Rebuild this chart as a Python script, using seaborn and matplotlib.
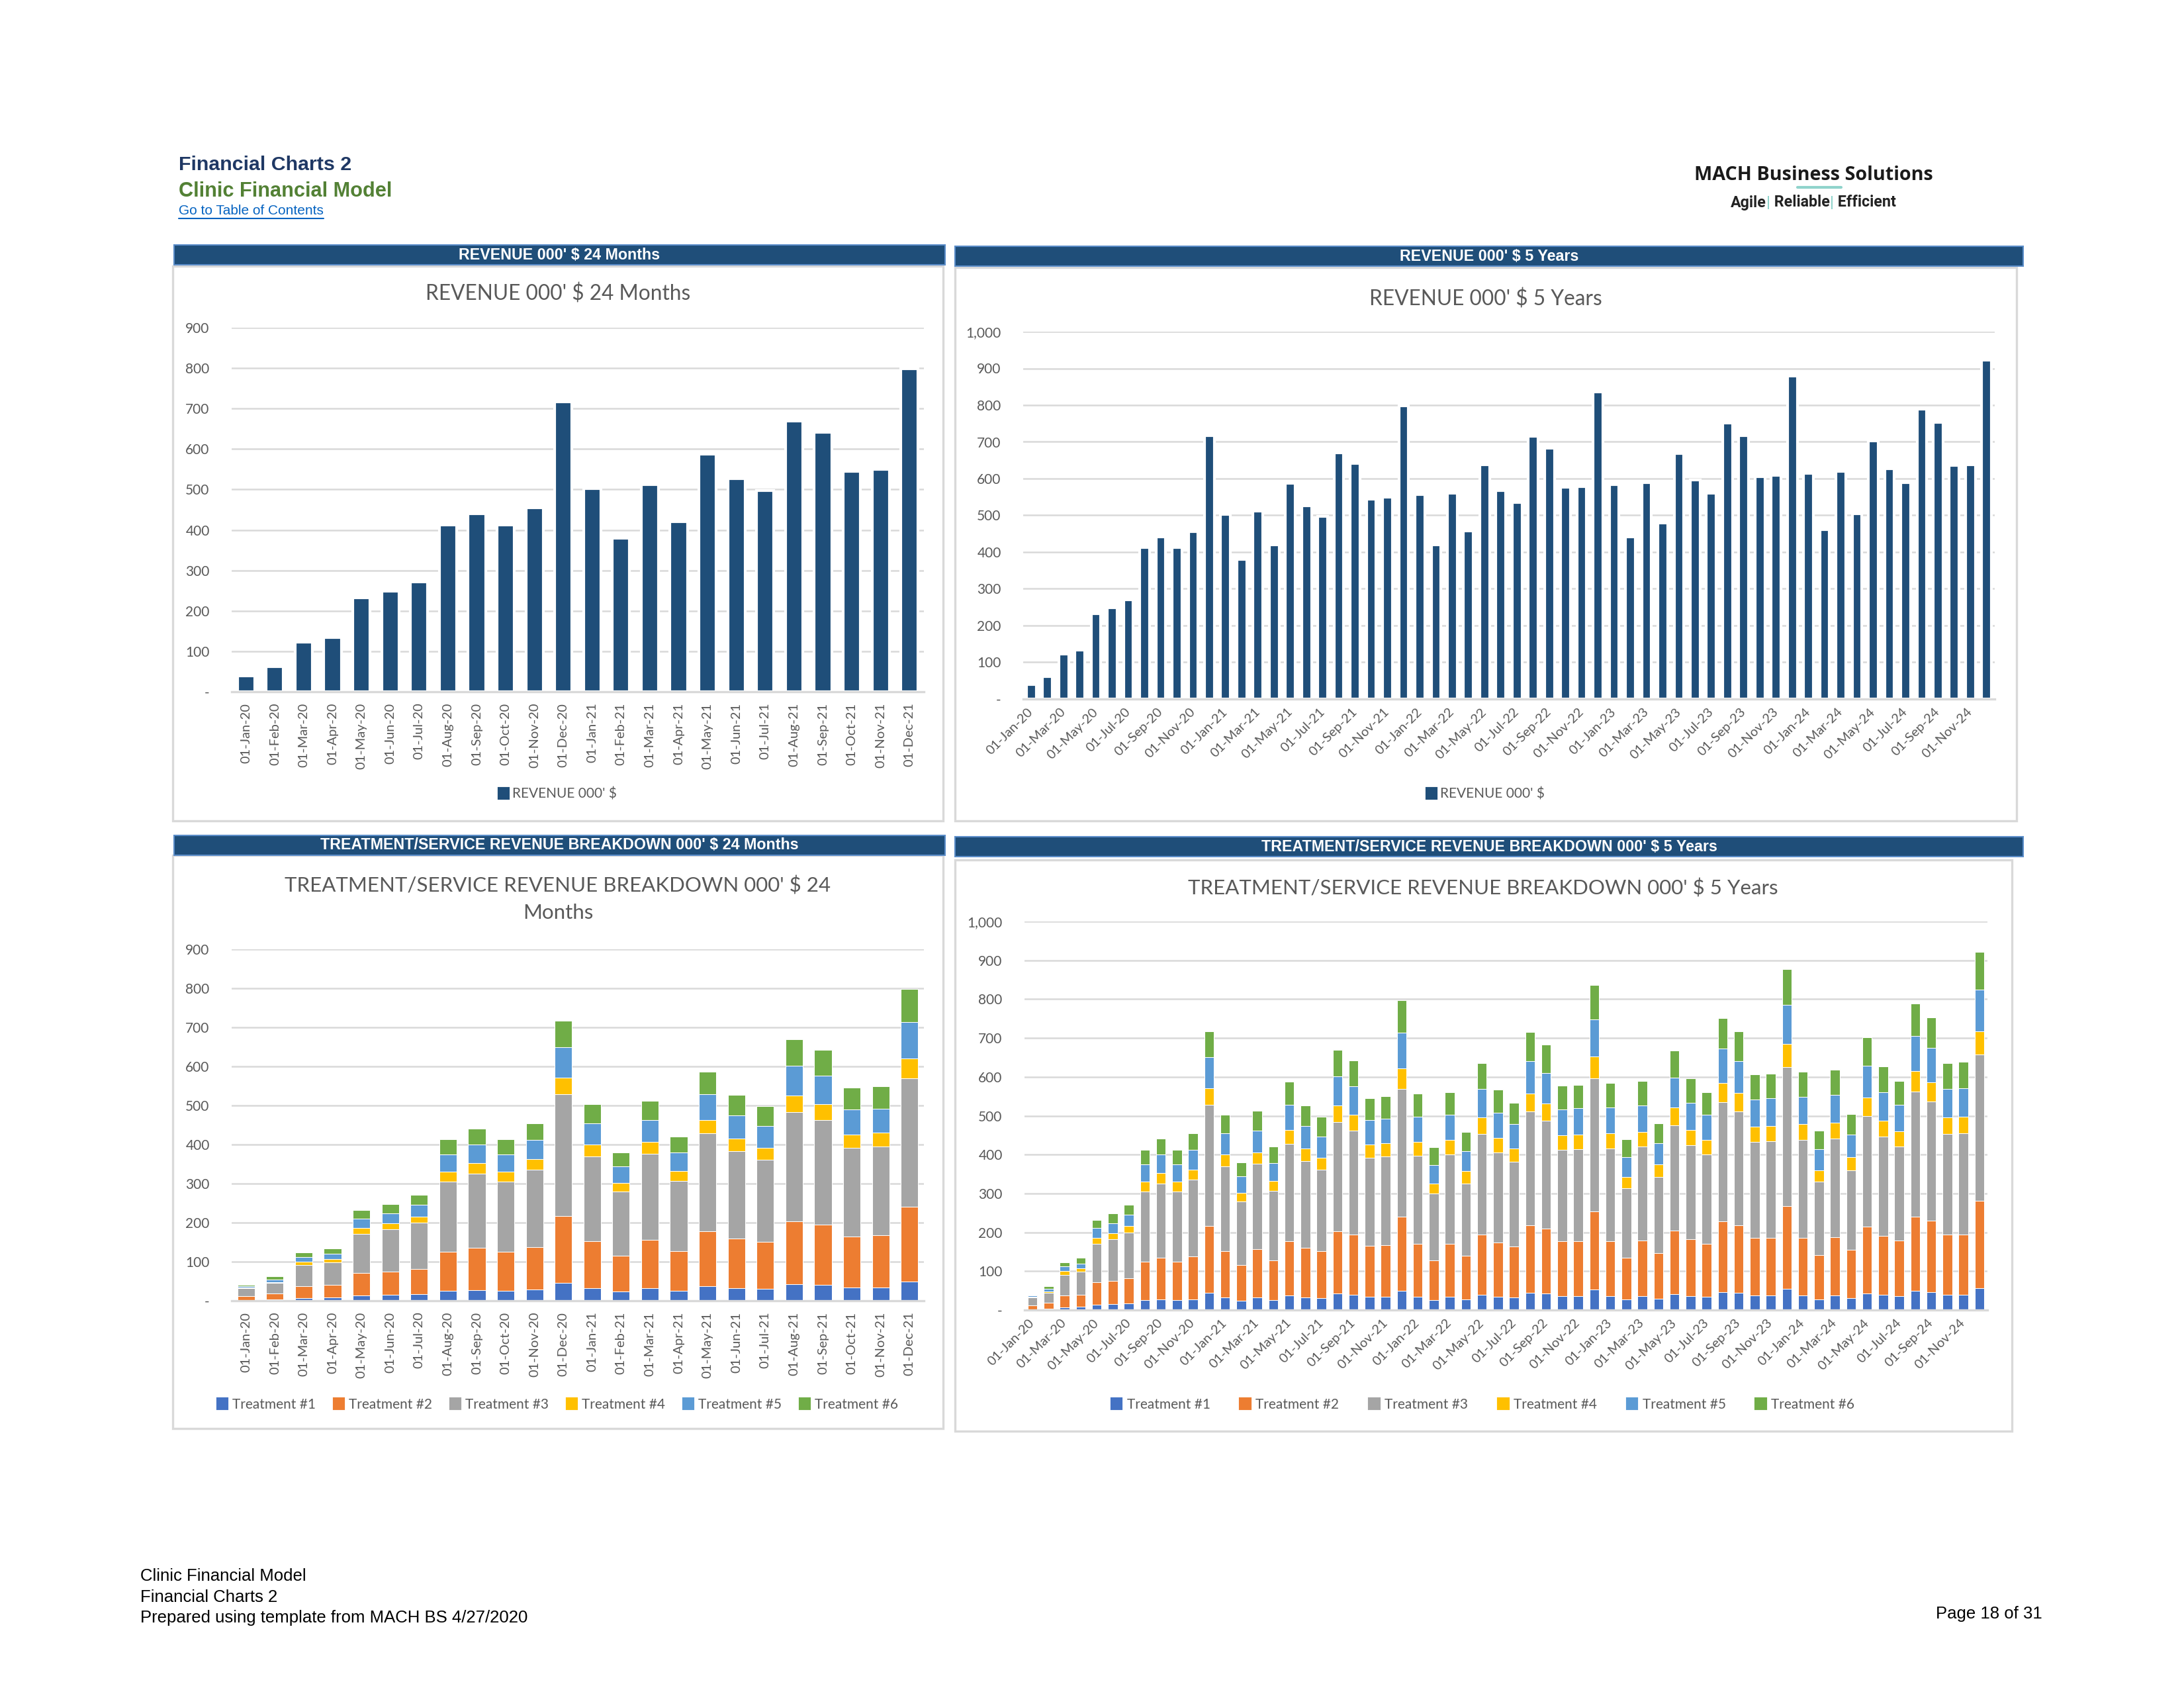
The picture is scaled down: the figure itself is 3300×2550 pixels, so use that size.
import numpy as np
import pandas as pd
import seaborn as sns
import matplotlib.pyplot as plt
from matplotlib.patches import Rectangle, Patch
from matplotlib.lines import Line2D
from matplotlib.ticker import FuncFormatter, MultipleLocator

# ---- data, 000' $ per month ----
months = pd.date_range('2020-01-01', periods=60, freq='MS').strftime('%d-%b-%y').tolist()

revenue = [40, 62, 123, 134, 232, 248, 271, 413, 441, 413, 455, 717,
           503, 380, 512, 420, 587, 527, 498, 670, 642, 545, 550, 798,
           557, 420, 561, 458, 637, 568, 535, 716, 682, 577, 578, 836,
           584, 441, 590, 480, 668, 597, 561, 752, 717, 606, 609, 879,
           614, 462, 619, 504, 702, 627, 589, 789, 753, 636, 638, 922]

treatment_1 = [2, 3, 7, 8, 14, 15, 17, 25, 27, 25, 28, 45,
               32, 23, 32, 26, 37, 33, 31, 42, 40, 34, 34, 50,
               34, 25, 34, 27, 39, 34, 32, 45, 43, 36, 36, 52,
               36, 27, 36, 29, 41, 36, 34, 46, 45, 38, 38, 55,
               38, 27, 38, 31, 43, 39, 36, 49, 46, 39, 39, 56]
treatment_2 = [10, 16, 30, 32, 57, 60, 65, 100, 108, 100, 110, 172,
               120, 92, 124, 101, 141, 127, 120, 161, 155, 131, 133, 191,
               136, 102, 136, 112, 155, 139, 131, 173, 167, 141, 141, 202,
               141, 107, 143, 117, 163, 146, 136, 183, 173, 147, 147, 212,
               148, 114, 150, 124, 171, 151, 143, 192, 184, 155, 155, 225]
treatment_3 = [20, 26, 54, 59, 100, 108, 118, 180, 191, 180, 197, 311,
               218, 164, 220, 179, 250, 223, 210, 280, 267, 226, 228, 328,
               227, 172, 230, 187, 260, 232, 218, 293, 277, 235, 237, 343,
               239, 179, 241, 196, 272, 243, 230, 306, 293, 247, 249, 359,
               251, 189, 253, 204, 286, 257, 241, 321, 307, 260, 261, 377]
treatment_4 = [2, 3, 9, 8, 15, 15, 16, 25, 27, 25, 27, 43,
               30, 23, 30, 26, 35, 33, 31, 43, 41, 35, 35, 52,
               36, 27, 37, 31, 42, 38, 35, 46, 44, 38, 38, 55,
               39, 29, 38, 33, 45, 39, 37, 50, 48, 40, 40, 58,
               41, 30, 41, 34, 47, 40, 40, 53, 49, 42, 43, 60]
treatment_5 = [3, 7, 12, 13, 25, 26, 30, 45, 47, 45, 50, 79,
               55, 42, 56, 47, 65, 58, 55, 75, 73, 63, 62, 92,
               65, 47, 65, 52, 73, 64, 62, 84, 79, 66, 67, 96,
               67, 51, 68, 55, 77, 69, 65, 88, 82, 70, 71, 102,
               70, 54, 71, 58, 81, 73, 68, 91, 88, 73, 73, 107]
treatment_6 = [3, 7, 11, 14, 21, 24, 25, 38, 41, 38, 43, 67,
               48, 36, 50, 41, 59, 53, 51, 69, 66, 56, 58, 85,
               59, 46, 58, 49, 67, 61, 56, 75, 73, 61, 60, 88,
               62, 47, 63, 50, 70, 63, 58, 78, 76, 64, 63, 92,
               66, 48, 65, 53, 74, 67, 61, 83, 79, 67, 68, 97]

treatment_names = ['Treatment #1', 'Treatment #2', 'Treatment #3',
                   'Treatment #4', 'Treatment #5', 'Treatment #6']

# ---- styling ----
W, H = 3300, 2550
NAVY = '#1F4E79'
GRID = '#D9D9D9'
TXT = '#595959'
T_COLORS = ['#4472C4', '#ED7D31', '#A5A5A5', '#FFC000', '#5B9BD5', '#70AD47']

sns.set_style('white')
plt.rcParams['font.family'] = ['Lato', 'DejaVu Sans']

fig = plt.figure(figsize=(11, 8.5), dpi=300)
fig.patch.set_facecolor('white')


def fx(x):
    return x / W


def fy(y):
    return 1 - y / H


def px_rect(x0, y0, x1, y1):
    return [fx(x0), fy(y1), (x1 - x0) / W, (y1 - y0) / H]


def panel(box, band, band_title):
    x0, y0, x1, y1 = box
    fig.patches.append(Rectangle((fx(x0), fy(y1)), (x1 - x0) / W, (y1 - y0) / H,
                                 transform=fig.transFigure, fill=False,
                                 edgecolor=GRID, lw=0.8, zorder=0))
    bx0, by0, bx1, by1 = band
    fig.patches.append(Rectangle((fx(bx0), fy(by1)), (bx1 - bx0) / W, (by1 - by0) / H,
                                 transform=fig.transFigure, facecolor=NAVY,
                                 edgecolor='#5B8DC9', lw=0.5, zorder=1))
    fig.text(fx((bx0 + bx1) / 2), fy((by0 + by1) / 2), band_title, ha='center',
             va='center', color='white', fontsize=5.6, fontweight='bold',
             family='Liberation Sans')


def style_axis(ax, top):
    ax.set_ylim(0, top)
    ax.yaxis.set_major_locator(MultipleLocator(100))
    ax.yaxis.set_major_formatter(FuncFormatter(lambda v, p: '-' if v == 0 else f'{v:,.0f}'))
    ax.grid(axis='y', color=GRID, lw=0.6)
    ax.grid(axis='x', visible=False)
    ax.set_axisbelow(True)
    for s in ['top', 'right', 'left']:
        ax.spines[s].set_visible(False)
    ax.spines['bottom'].set_color(GRID)
    ax.spines['bottom'].set_linewidth(0.8)
    ax.tick_params(axis='y', length=0, labelsize=5, labelcolor=TXT, pad=8)
    ax.tick_params(axis='x', length=0, labelsize=4.8, labelcolor=TXT, pad=4)
    ax.set_xlabel('')
    ax.set_ylabel('')
    ax.patch.set_alpha(0)


def month_ticks(ax, n):
    if n == 24:
        ax.set_xticks(range(n))
        ax.set_xticklabels(months[:n], rotation=90)
    else:
        ax.set_xticks(range(0, n, 2))
        ax.set_xticklabels(months[:n:2], rotation=45, ha='right',
                           rotation_mode='anchor', va='center')
    ax.set_xlim(-0.5, n - 0.5)


breakdown = pd.DataFrame({name: vals for name, vals in zip(
    treatment_names, [treatment_1, treatment_2, treatment_3,
                      treatment_4, treatment_5, treatment_6])}, index=months)
stacked = breakdown.cumsum(axis=1)

# ---- revenue charts ----
for n, box, band, band_title, title, title_y, axrect, top, cx in [
    (24, (261, 402, 1425, 1240), (263, 370, 1428, 400), "REVENUE 000' $ 24 Months",
     "REVENUE 000' $ 24 Months", 444, (350, 495, 1396, 1045), 900, 843),
    (60, (1443, 404, 3047, 1240), (1443, 372, 3057, 402), "REVENUE 000' $ 5 Years",
     "REVENUE 000' $ 5 Years", 452, (1546, 501, 3014, 1056), 1000, 2245),
]:
    panel(box, band, band_title)
    ax = fig.add_axes(px_rect(*axrect))
    sns.barplot(x=months[:n], y=revenue[:n], color=NAVY, saturation=1,
                width=0.6, ax=ax)
    style_axis(ax, top)
    month_ticks(ax, n)
    fig.text(fx(cx), fy(title_y), title, ha='center', va='center', fontsize=7.6,
             color=TXT)
    fig.legend(handles=[Patch(color=NAVY, label="REVENUE 000' $")],
               loc='center', bbox_to_anchor=(fx(cx), fy(1200)), frameon=False,
               fontsize=5, labelcolor=TXT, handlelength=0.7, handleheight=0.7,
               handletextpad=0.3)

# ---- treatment breakdown charts ----
for n, box, band, band_title, title, title_y, axrect, top, cx, colsp in [
    (24, (261, 1292, 1425, 2158), (263, 1262, 1428, 1292),
     "TREATMENT/SERVICE REVENUE BREAKDOWN 000' $ 24 Months",
     "TREATMENT/SERVICE REVENUE BREAKDOWN 000' $ 24\nMonths", 1358,
     (350, 1434, 1396, 1965), 900, 843, 1.3),
    (60, (1443, 1299, 3040, 2162), (1443, 1264, 3057, 1294),
     "TREATMENT/SERVICE REVENUE BREAKDOWN 000' $ 5 Years",
     "TREATMENT/SERVICE REVENUE BREAKDOWN 000' $ 5 Years", 1342,
     (1548, 1392, 3003, 1979), 1000, 2241, 2.2),
]:
    panel(box, band, band_title)
    ax = fig.add_axes(px_rect(*axrect))
    # draw cumulative totals from the top segment down so each layer shows
    for name, color in reversed(list(zip(treatment_names, T_COLORS))):
        sns.barplot(x=months[:n], y=stacked[name].values[:n], color=color,
                    saturation=1, width=0.6, ax=ax, edgecolor='white',
                    linewidth=0.25)
    style_axis(ax, top)
    month_ticks(ax, n)
    fig.text(fx(cx), fy(title_y), title, ha='center', va='center', fontsize=7.5,
             color=TXT, linespacing=1.55)
    handles = [Patch(color=c, label=t) for t, c in zip(treatment_names, T_COLORS)]
    fig.legend(handles=handles, loc='center', ncol=6,
               bbox_to_anchor=(fx(cx), fy(2122)), frameon=False, fontsize=5,
               labelcolor=TXT, handlelength=0.7, handleheight=0.7,
               handletextpad=0.4, columnspacing=colsp)

# ---- page header ----
fig.text(fx(270), fy(249), 'Financial Charts 2', ha='left', va='center',
         fontsize=7.3, fontweight='bold', color='#1F3864', family='Liberation Sans')
fig.text(fx(270), fy(289), 'Clinic Financial Model', ha='left', va='center',
         fontsize=7.4, fontweight='bold', color='#538135', family='Liberation Sans')
toc = fig.text(fx(270), fy(319), 'Go to Table of Contents', ha='left', va='center',
               fontsize=5, color='#0563C1', family='Liberation Sans')

fig.text(fx(2740), fy(264), 'MACH Business Solutions', ha='center', va='center',
         fontsize=6.9, fontweight='bold', color='#1A1A1A', family='Open Sans')
fig.lines.append(Line2D([fx(2716), fx(2782)], [fy(283), fy(283)],
                        transform=fig.transFigure, color='#8FD3CB', lw=1.0))

renderer = fig.canvas.get_renderer()
bb = toc.get_window_extent(renderer)
fig.lines.append(Line2D([bb.x0 / W, bb.x1 / W], [fy(330), fy(330)],
                        transform=fig.transFigure, color='#0563C1', lw=0.5))

tag_parts = [('Agile', '#222222'), ('|', '#8FD3CB'), (' Reliable', '#222222'),
             ('|', '#8FD3CB'), (' Efficient', '#222222')]
tag_texts = [fig.text(0, fy(306), s, ha='left', va='center', fontsize=5.6,
                      fontweight='bold', color=c, family='Roboto')
             for s, c in tag_parts]
widths = [t.get_window_extent(renderer).width for t in tag_texts]
x = 2740 - sum(widths) / 2
for t, w in zip(tag_texts, widths):
    t.set_x(fx(x))
    x += w

# ---- page footer ----
for i, line in enumerate(['Clinic Financial Model', 'Financial Charts 2',
                          'Prepared using template from MACH BS 4/27/2020']):
    fig.text(fx(212), fy(2381 + 31.5 * i), line, ha='left', va='center',
             fontsize=6.2, color='black', family='Liberation Sans')
fig.text(fx(3086), fy(2438), 'Page 18 of 31', ha='right', va='center',
         fontsize=6.2, color='black', family='Liberation Sans')

fig.savefig('out.png', dpi=300, facecolor='white')
